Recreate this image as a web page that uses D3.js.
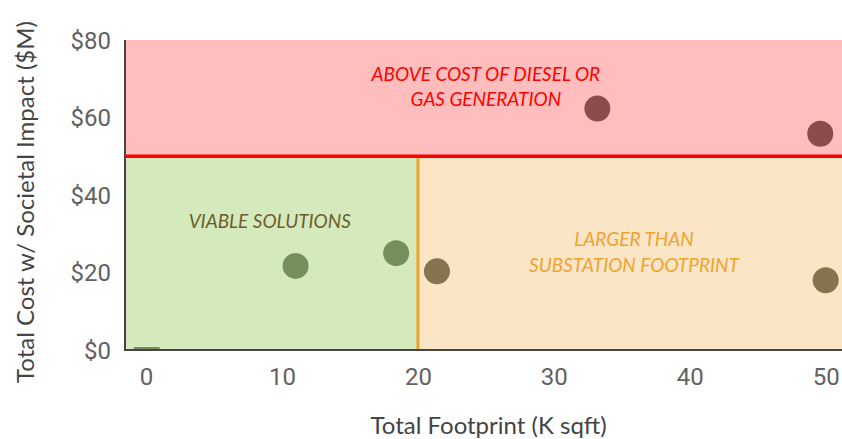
<meta charset="utf-8">
<html>
  <head>
    <style>
      body { margin: 0; background: #fff; }
      .axis text {
        fill: #616161;
        font-size: 24px;
        font-family: Roboto, Arial, sans-serif;
      }
      .axisLabel {
        fill: #444;
        font-size: 24px;
        font-family: Lato, "Open Sans", sans-serif;
      }
      .zoneLabel {
        font-family: Lato, "Open Sans", sans-serif;
        font-style: italic;
        font-size: 19px;
        text-anchor: middle;
      }
    </style>
  </head>
<script src="https://d3js.org/d3.v7.min.js"></script>
<div id="my_dataviz"></div>
<script>

    // data
    var footprint = [11, 18.4, 21.4, 33.2, 49.6, 50];      // K sqft
    var cost      = [21.7, 25, 20.3, 62.3, 55.8, 18];      // $M
    var dotColor  = ["#748f5b", "#748f5b", "#86734f", "#8c4c4c", "#8c4c4c", "#86734f"];

    var xTicks = [0, 10, 20, 30, 40, 50];
    var yTicks = [0, 20, 40, 60, 80];

    var costLimit = 50;       // diesel / gas generation
    var footprintLimit = 20;  // substation footprint
    var stub = [-0.9, 1];     // little mark sitting on the x axis at 0

    var width = 842, height = 439;
    var svg = d3.select("#my_dataviz")
      .append("svg")
        .attr("width", width)
        .attr("height", height);

    var x = d3.scaleLinear().domain([-1.55, 51.2]).range([125, 842]);
    var y = d3.scaleLinear().domain([0, 80]).range([350, 40]);

    // background zones
    svg.append("rect")
      .attr("x", x(-1.55)).attr("y", y(80))
      .attr("width", x(51.2) - x(-1.55)).attr("height", y(costLimit) - y(80))
      .attr("fill", "#ffbdbd");
    svg.append("rect")
      .attr("x", x(-1.55)).attr("y", y(costLimit))
      .attr("width", x(footprintLimit) - x(-1.55)).attr("height", y(0) - y(costLimit))
      .attr("fill", "#d4eabc");
    svg.append("rect")
      .attr("x", x(footprintLimit)).attr("y", y(costLimit))
      .attr("width", x(51.2) - x(footprintLimit)).attr("height", y(0) - y(costLimit))
      .attr("fill", "#fae6c7");

    // limit lines
    svg.append("line")
      .attr("x1", x(footprintLimit)).attr("x2", x(footprintLimit))
      .attr("y1", y(costLimit)).attr("y2", y(0))
      .attr("stroke", "#f0a22e").attr("stroke-width", 3);
    svg.append("line")
      .attr("x1", x(-1.55)).attr("x2", x(51.2))
      .attr("y1", y(costLimit)).attr("y2", y(costLimit))
      .attr("stroke", "#ff0000").attr("stroke-width", 3.5);

    svg.append("line")
      .attr("x1", x(stub[0])).attr("x2", x(stub[1]))
      .attr("y1", y(0) - 2).attr("y2", y(0) - 2)
      .attr("stroke", "#748f5b").attr("stroke-width", 2);

    // zone labels
    svg.append("text").attr("class", "zoneLabel").attr("fill", "#ff0000")
      .attr("x", x(25.0)).attr("y", y(69.5)).text("ABOVE COST OF DIESEL OR");
    svg.append("text").attr("class", "zoneLabel").attr("fill", "#ff0000")
      .attr("x", x(25.0)).attr("y", y(63)).text("GAS GENERATION");
    svg.append("text").attr("class", "zoneLabel").attr("fill", "#6e5c2c")
      .attr("x", x(9.1)).attr("y", y(31.6)).text("VIABLE SOLUTIONS");
    svg.append("text").attr("class", "zoneLabel").attr("fill", "#f0a22e")
      .attr("x", x(35.9)).attr("y", y(26.9)).text("LARGER THAN");
    svg.append("text").attr("class", "zoneLabel").attr("fill", "#f0a22e")
      .attr("x", x(35.9)).attr("y", y(20.2)).text("SUBSTATION FOOTPRINT");

    // points
    svg.selectAll("circle.dot")
      .data(footprint)
      .enter()
      .append("circle")
        .attr("class", "dot")
        .attr("cx", function(d) { return x(d); })
        .attr("cy", function(d, i) { return y(cost[i]); })
        .attr("r", 13)
        .attr("fill", function(d, i) { return dotColor[i]; });

    // axes
    var xAxis = svg.append("g")
      .attr("class", "axis")
      .attr("transform", "translate(0," + y(0) + ")")
      .call(d3.axisBottom(x).tickValues(xTicks).tickSize(0).tickPadding(18));
    xAxis.select(".domain").remove();

    var yAxis = svg.append("g")
      .attr("class", "axis")
      .attr("transform", "translate(" + x(-1.55) + ",0)")
      .call(d3.axisLeft(y).tickValues(yTicks).tickSize(0).tickPadding(14)
        .tickFormat(function(d) { return "$" + d; }));
    yAxis.select(".domain").remove();
    yAxis.selectAll("text").attr("dy", "0.35em");

    svg.append("line")
      .attr("x1", x(-1.55)).attr("x2", x(-1.55))
      .attr("y1", y(80)).attr("y2", y(0) + 1)
      .attr("stroke", "#444").attr("stroke-width", 2);
    svg.append("line")
      .attr("x1", x(-1.55) - 1).attr("x2", x(51.2))
      .attr("y1", y(0)).attr("y2", y(0))
      .attr("stroke", "#444").attr("stroke-width", 2);

    // axis titles
    svg.append("text")
      .attr("class", "axisLabel")
      .attr("x", x(25.2)).attr("y", 434)
      .style("text-anchor", "middle")
      .text("Total Footprint (K sqft)");
    svg.append("text")
      .attr("class", "axisLabel")
      .attr("transform", "rotate(-90)")
      .attr("x", -202).attr("y", 34)
      .style("text-anchor", "middle")
      .text("Total Cost w/ Societal Impact ($M)");

</script>
</html>
